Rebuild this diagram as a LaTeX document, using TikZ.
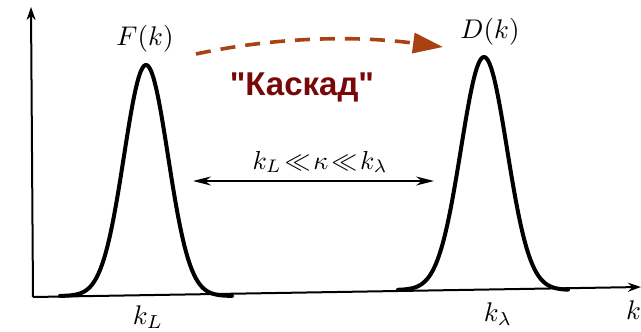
\documentclass[tikz,border=0pt]{standalone}
\usepackage{graphicx}
\usepackage{fontspec}
\newfontfamily\cyrsans{Liberation Sans}
\usetikzlibrary{arrows.meta}
\definecolor{cascadebrown}{RGB}{168,66,18}
\definecolor{cascadered}{RGB}{120,8,8}
\newcommand{\bigmath}[2]{\scalebox{#1}{$#2$}}
\tikzset{
  axisline/.style={line width=2pt,-{Stealth[length=13pt,width=9pt]}},
  peakline/.style={line width=4pt,line cap=round,line join=round},
  rangearrow/.style={line width=1.4pt,{Stealth[length=18pt,width=9pt]}-{Stealth[length=18pt,width=9pt]}},
  cascadearrow/.style={cascadebrown,line width=3.6pt,dash pattern=on 15pt off 10pt,-{Triangle[length=30pt,width=20pt]}},
  mathlabel/.style={inner sep=0pt},
}
\begin{document}
\begin{tikzpicture}[x=1pt,y=-1pt]
\useasboundingbox (0,0) rectangle (641,332);
% axes
\coordinate (O) at (33,297);
\coordinate (Ytip) at (31,7);
\coordinate (Xtip) at (641,287);
\draw[axisline] (O) -- (Ytip);
\draw[axisline] (O) -- (Xtip);
% peaks
\draw[peakline] plot[domain=60:232,samples=120,smooth] (\x,{296-231*exp(-((\x-146)^2)/968)});
\draw[peakline] plot[domain=398:568,samples=120,smooth] (\x,{290-233*exp(-((\x-484)^2)/1058)});
% labels
\node[mathlabel] (F) at (145,39) {\bigmath{2.7}{F(k)}};
\node[mathlabel] (D) at (490,32) {\bigmath{2.7}{D(k)}};
\node[mathlabel] (kL) at (148,317) {\bigmath{2.7}{k_L}};
\node[mathlabel] (kl) at (498,314) {\bigmath{2.7}{k_\lambda}};
\node[mathlabel,anchor=west] (k) at (626,310) {\bigmath{2.7}{k}};
\node[mathlabel] (rel) at (320,162) {\bigmath{2.6}{k_L\!\ll\!\kappa\!\ll\!k_\lambda}};
\node[font=\cyrsans\bfseries\fontsize{33}{36}\selectfont,text=cascadered,inner sep=0pt] (casc) at (302,87) {"Каскад"};
% range arrow
\coordinate (rL) at (193,181);
\coordinate (rR) at (434,181);
\draw[rangearrow] (rL) -- (rR);
% cascade arrow
\coordinate (cS) at (196,54);
\coordinate (cE) at (443,47);
\draw[cascadearrow] (cS) .. controls (280,36) and (360,36) .. (cE);
\end{tikzpicture}
\end{document}
